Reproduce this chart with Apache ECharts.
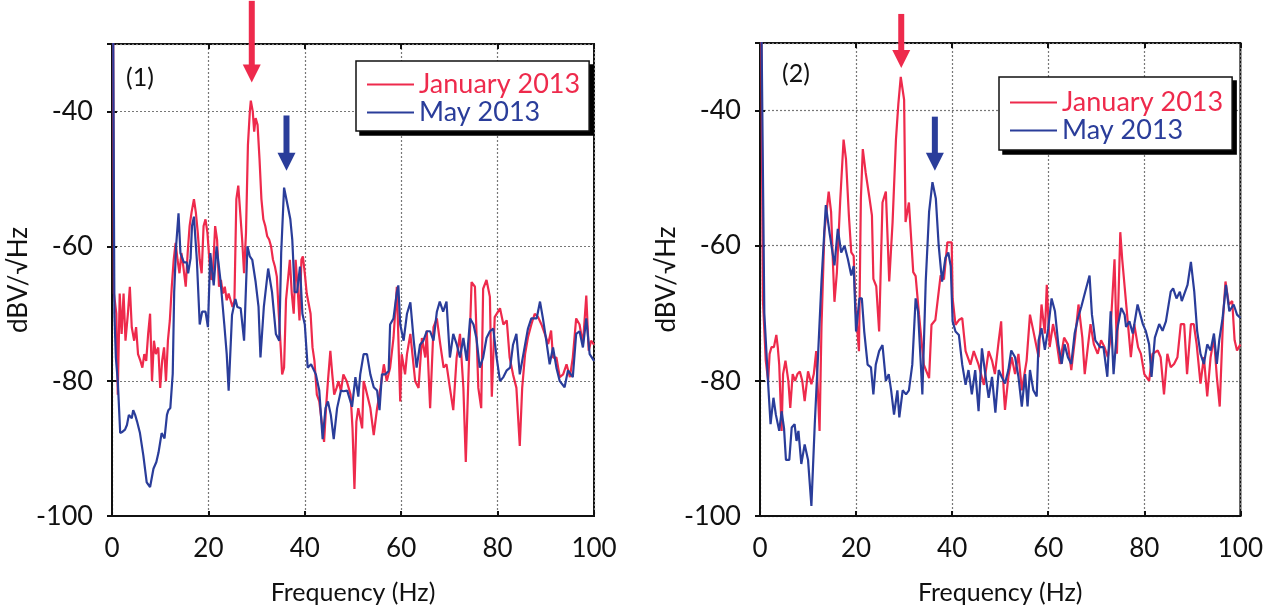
<!DOCTYPE html>
<html>
<head>
<meta charset="utf-8">
<script src="https://cdn.jsdelivr.net/npm/echarts@6/dist/echarts.min.js"></script>
<style>
  html, body { margin: 0; padding: 0; background: #fff; }
  #main { width: 1266px; height: 610px; }
</style>
</head>
<body>
<div id="main"></div>
<script>
// spectra: [frequency Hz, dBV/sqrt(Hz)]
let janA = [[0.2,-20],[0.4,-67],[0.9,-70],[1.2,-82],[1.6,-67],[2.0,-73],[2.4,-67],[2.8,-74],[3.3,-70],[3.7,-66],[4.1,-72],[4.6,-74],[5.0,-72],[5.4,-76],[5.9,-77],[6.3,-78],[6.7,-76],[7.1,-77],[7.5,-73],[7.9,-70],[8.3,-80],[8.7,-74],[9.1,-76],[9.6,-75],[10.0,-81],[10.4,-77],[10.8,-75],[11.2,-80],[11.6,-74],[12.0,-71],[12.4,-66],[12.8,-62],[13.2,-59.5],[13.6,-62],[14.0,-64],[14.4,-61],[14.8,-63],[15.3,-66],[15.7,-61],[16.1,-57],[16.5,-55],[17.0,-53],[17.4,-55],[17.8,-58],[18.2,-62],[18.6,-64],[19.0,-57],[19.4,-56],[19.8,-58],[20.2,-62],[20.6,-65],[21.0,-63],[21.4,-57],[21.8,-59],[22.2,-66],[22.6,-65],[23.0,-67],[23.4,-66],[23.8,-68],[24.2,-67],[24.6,-68],[25.0,-69],[25.4,-68],[25.8,-53],[26.2,-51],[26.6,-55],[27.0,-59],[27.4,-64],[27.8,-58],[28.2,-45],[28.6,-40],[28.8,-38.4],[29.2,-40],[29.5,-43],[29.8,-41],[30.2,-42],[30.6,-47],[31.0,-53],[31.4,-56],[31.8,-57],[32.2,-58.5],[32.6,-59],[33.0,-60],[33.4,-62],[33.8,-63],[34.2,-64.5],[34.6,-70],[35.0,-75],[35.3,-79],[35.7,-78],[36.1,-68],[36.5,-65],[36.9,-62],[37.3,-67],[37.7,-70],[38.1,-62],[38.5,-66],[38.9,-71],[39.3,-62],[39.6,-61.5],[40.0,-64],[40.4,-67],[40.8,-67],[41.2,-70],[41.6,-75],[42.0,-77],[42.5,-82],[43.0,-83],[43.5,-86],[44.0,-89],[44.4,-84],[44.8,-80],[45.3,-75.5],[45.7,-79],[46.1,-82],[46.6,-81],[47.0,-80],[47.5,-81.5],[48.0,-79],[48.3,-79],[48.7,-80],[49.0,-80],[49.5,-82],[49.9,-87],[50.3,-96],[50.7,-86],[51.1,-84],[51.5,-84],[51.9,-87],[52.2,-80],[52.6,-81],[53.0,-81],[53.6,-84],[54.3,-88],[55.0,-84],[55.7,-81],[56.4,-77.5],[57.0,-80],[57.7,-78],[58.4,-73.6],[59.1,-66],[59.8,-83],[60.1,-76],[60.8,-79],[61.2,-76],[61.9,-73],[62.9,-80],[63.6,-81],[64.3,-73.6],[65.0,-76.5],[65.3,-72.5],[66.0,-84],[66.7,-72],[67.4,-70.7],[68.1,-74.5],[68.8,-78],[69.4,-77.5],[70.1,-81],[70.8,-84.3],[71.5,-76.5],[72.2,-73],[72.9,-81],[73.4,-92],[73.9,-80.5],[74.6,-65.3],[75.3,-66],[76.0,-81],[76.6,-84],[77.0,-66.3],[77.7,-65],[78.4,-67.5],[78.8,-82.3],[79.4,-70.5],[80.5,-69.2],[81.2,-71.6],[81.9,-71],[82.5,-76.5],[83.2,-79],[83.9,-81],[84.6,-89.6],[85.1,-81],[85.7,-76],[86.3,-73.5],[87.0,-71.6],[87.7,-70],[88.4,-70.5],[89.1,-71.6],[89.8,-73],[90.5,-74.5],[91.1,-72.5],[91.5,-76.5],[92.2,-76.5],[92.9,-79.4],[93.6,-79],[94.3,-77.5],[95.0,-79.4],[95.6,-76.5],[96.3,-70.7],[97.0,-71.6],[97.7,-74.5],[98.4,-67.3],[98.9,-75.5],[99.4,-74],[100,-74.6]];

let mayA = [[0.2,-20],[0.5,-70],[0.8,-76.5],[1.2,-80],[1.7,-87.7],[2.2,-87.5],[2.7,-87.2],[3.1,-86.5],[3.5,-85],[3.8,-84.8],[4.1,-85.5],[4.4,-84.3],[4.8,-85],[5.2,-86],[5.8,-87.7],[6.5,-91],[7.2,-95],[7.9,-95.7],[8.6,-93],[9.2,-92],[9.65,-90.6],[10.3,-87.7],[10.9,-88.5],[11.4,-85],[11.7,-84.3],[12.1,-84],[12.6,-78.9],[12.9,-66.8],[13.3,-60],[13.8,-55.1],[14.2,-61],[14.9,-62.4],[15.5,-62.4],[15.8,-64],[16.3,-61.8],[16.6,-57],[17.0,-55.6],[17.6,-62],[18.2,-71.6],[18.7,-69.7],[19.4,-69.7],[19.9,-72],[20.4,-61],[21.1,-65.8],[21.7,-60],[22.5,-65],[23.3,-71.6],[23.8,-76],[24.2,-81.4],[24.9,-70.2],[25.6,-67.8],[26.0,-69],[26.7,-69.2],[27.4,-74],[28.1,-60],[28.6,-61.5],[29.1,-62],[29.8,-65.3],[30.4,-69],[30.8,-76.5],[31.5,-69],[32.4,-63.3],[33.2,-66.8],[34.0,-73],[34.7,-74],[35.1,-61],[35.7,-51.3],[36.4,-53.8],[37.0,-56],[37.4,-59],[37.9,-66.8],[38.4,-66.8],[39.0,-63],[39.5,-70],[40.0,-71.6],[40.6,-78],[41.3,-77.5],[42.3,-79],[43.0,-81.4],[43.7,-88.6],[44.3,-84],[44.8,-83],[45.4,-85],[46.0,-88.6],[46.7,-84],[47.5,-81.4],[48.0,-81.5],[48.8,-81.4],[49.8,-83.8],[50.5,-79.4],[51.1,-82.3],[51.5,-79],[52.2,-76],[52.9,-76],[53.6,-79],[54.3,-80.9],[55.0,-81.4],[55.5,-84.3],[56.0,-79],[56.7,-79],[57.4,-78.5],[57.7,-71.6],[58.4,-70.7],[59.1,-66.8],[59.4,-65.8],[59.8,-71.6],[60.5,-74],[61.2,-70],[61.9,-68.3],[62.6,-74],[63.2,-78],[63.9,-74.6],[64.6,-74],[65.3,-72.6],[66.0,-72.6],[66.7,-74],[67.4,-69.7],[68.0,-68.2],[68.7,-69.7],[69.4,-68.2],[70.1,-76.5],[70.8,-73],[71.5,-74.5],[72.2,-76.5],[72.9,-73.6],[73.6,-77],[74.3,-70.7],[75.0,-71.6],[75.6,-73.6],[76.3,-78],[77.0,-76.5],[77.7,-73.6],[78.4,-72.6],[79.1,-72.2],[79.8,-76.5],[80.5,-80],[81.2,-79.4],[81.9,-78.4],[82.6,-78],[83.2,-74.6],[83.9,-73],[84.6,-79],[85.6,-75],[86.3,-72.2],[87.0,-70.7],[88.1,-70.7],[88.8,-68.2],[89.4,-70.7],[90.1,-74],[90.8,-77.5],[91.5,-75],[92.2,-78],[92.9,-80],[93.9,-80.9],[94.6,-78.4],[95.6,-79.4],[96.3,-73],[97.0,-72.6],[97.7,-75],[98.4,-70.7],[99.1,-76],[100,-77]];

let janB = [[0.2,-20],[0.6,-68],[1.2,-77],[1.7,-80],[2.0,-76],[2.4,-75],[2.9,-75],[3.4,-73.2],[3.7,-75],[4.0,-77.6],[4.5,-87.4],[4.8,-79],[5.3,-77],[5.9,-80],[6.3,-84],[6.8,-79],[7.3,-80],[7.8,-79],[8.3,-78.6],[8.8,-80],[9.3,-83],[10.0,-78.6],[10.7,-80.5],[11.2,-79],[11.7,-75.6],[12.4,-87.4],[12.8,-72],[13.4,-58],[14.3,-52],[14.8,-55],[15.2,-62.9],[15.5,-68.3],[16.0,-64],[16.7,-53.3],[17.4,-44.3],[17.9,-47.2],[18.5,-55.5],[19.0,-61],[19.5,-61.5],[19.9,-69.3],[20.6,-75.6],[21.0,-53],[21.4,-45.7],[22.0,-49.2],[22.8,-53],[23.3,-55.5],[23.6,-64.9],[24.2,-66],[24.8,-72.7],[25.5,-53.6],[26.2,-52],[26.9,-65.3],[27.6,-56.5],[28.3,-44.3],[28.8,-39],[29.3,-35],[30.0,-38.4],[30.3,-56.5],[31.0,-53.6],[31.9,-63.9],[32.4,-64.5],[33.1,-70.2],[34.1,-77.6],[35.2,-79.6],[35.7,-71.7],[36.5,-71],[37.6,-64.4],[38.3,-65],[39.0,-59.5],[39.9,-59.5],[40.1,-67.8],[40.7,-71.7],[41.4,-71],[42.1,-70.7],[42.8,-75.6],[43.8,-77.6],[44.5,-75.6],[45.5,-77.6],[46.6,-80.6],[47.6,-75.6],[48.3,-77],[48.9,-79],[49.7,-74],[50.2,-71.2],[50.7,-81],[51.0,-84.3],[51.7,-79.4],[52.4,-76.5],[53.1,-79],[53.8,-76],[54.5,-81.4],[55.5,-77],[56.2,-70.2],[56.9,-72.6],[58.0,-76.5],[58.6,-68.7],[59.3,-73],[59.7,-65.8],[60.3,-75],[61.0,-71.6],[61.7,-74],[62.4,-77.5],[63.3,-73.6],[64.1,-74.6],[64.8,-78.4],[65.6,-73.6],[66.3,-68.7],[67.1,-73.6],[67.6,-79],[68.1,-75.9],[68.8,-71.6],[69.5,-74.6],[70.3,-76],[71.0,-74],[71.7,-75],[72.4,-76.5],[72.8,-74.6],[73.8,-62],[74.3,-76],[75.0,-58],[75.4,-62],[76.3,-69.2],[77.2,-76.5],[77.9,-71.6],[78.7,-75],[79.3,-76],[80.0,-79],[81.0,-80],[81.7,-76],[82.8,-75.5],[83.4,-76.5],[84.1,-82],[84.8,-76],[85.5,-78],[86.2,-77.5],[86.9,-76.5],[87.6,-71.6],[88.3,-71.6],[88.9,-79],[89.7,-71.6],[90.3,-71.6],[90.9,-74.6],[91.7,-80.4],[92.4,-76.5],[93.1,-82.3],[93.8,-76.5],[94.5,-73.6],[95.1,-79.4],[95.7,-83.8],[96.4,-70.7],[96.9,-65.3],[97.6,-68.7],[98.3,-68.2],[98.8,-74],[99.3,-75.5],[100,-74.6]];

let mayB = [[0.2,-20],[0.9,-70],[1.7,-80.5],[2.2,-86.4],[2.8,-82.5],[3.3,-85],[4.0,-87.4],[4.5,-84.5],[5.0,-87],[5.4,-91.7],[6.1,-91.7],[6.6,-86.9],[7.2,-86.4],[7.6,-88.9],[8.0,-87.4],[8.6,-92.3],[9.3,-89.4],[10.0,-91.7],[10.7,-98.5],[11.4,-86.4],[12.1,-76],[12.8,-65.3],[13.7,-54],[14.5,-58.2],[15.5,-62.9],[16.2,-57.5],[16.9,-61],[17.6,-60],[18.3,-62],[19.0,-64.4],[19.5,-63],[20.0,-72.7],[20.7,-67.8],[21.2,-67.8],[21.7,-72.7],[22.4,-77.6],[23.1,-78],[23.6,-82],[24.1,-77.6],[24.8,-75.6],[25.5,-74.7],[26.2,-80],[26.8,-79],[27.3,-81.4],[27.9,-85],[28.6,-81.4],[29.0,-85.4],[29.7,-81.4],[30.4,-82],[31.0,-81.4],[31.7,-77.6],[32.4,-67.8],[32.9,-69.7],[33.4,-76.5],[33.8,-82],[34.5,-65.3],[35.2,-55],[35.9,-50.6],[36.6,-53],[37.2,-60],[37.9,-65.3],[38.6,-61.8],[39.2,-61],[39.7,-63],[40.1,-71.2],[40.7,-72.7],[41.4,-73.2],[42.1,-77.6],[42.8,-80.6],[43.4,-78.4],[44.1,-82],[44.8,-78.4],[45.5,-84.5],[46.2,-75.2],[46.9,-79],[47.6,-82.5],[48.3,-79.4],[49.0,-84.7],[49.7,-78.4],[50.3,-79.4],[51.0,-80.4],[51.7,-78.4],[52.3,-75.5],[53.1,-76.5],[53.8,-79.4],[54.5,-83.8],[55.2,-79],[55.7,-83.8],[56.2,-78.4],[56.9,-81.4],[57.6,-82.3],[58.0,-74],[58.6,-72.2],[59.3,-75.4],[60.0,-72.2],[60.7,-67.8],[61.4,-69.7],[62.1,-74.6],[62.8,-77.5],[63.4,-74.6],[64.1,-76.5],[64.8,-77.5],[65.5,-73],[66.2,-70.7],[66.9,-69],[67.7,-66.8],[68.6,-64.4],[69.1,-70.2],[69.8,-74],[70.8,-75],[71.5,-75],[72.3,-79.4],[73.0,-69.7],[73.6,-79],[74.3,-72.6],[75.2,-69.2],[75.9,-70.2],[76.2,-72],[76.9,-71.2],[77.6,-73],[78.6,-68.7],[79.7,-71.6],[80.3,-72.6],[81.0,-74.6],[81.5,-79.4],[82.2,-73.6],[83.1,-71.6],[83.8,-72.6],[84.5,-71.2],[85.5,-66.8],[86.0,-66.3],[86.7,-67.8],[87.4,-66.8],[87.8,-68.2],[88.5,-66.8],[89.0,-65.8],[89.7,-62.4],[90.4,-66.8],[91.0,-72.6],[91.7,-76],[92.4,-77.5],[93.1,-74.6],[93.8,-75.5],[94.5,-73],[95.1,-77.5],[95.6,-74],[96.3,-70.7],[97.0,-65.8],[97.7,-69.7],[98.6,-68.7],[99.3,-70.2],[100,-70.7]];

// arrows marking the peaks (data coords): grid, freq, top, tip
let arrowGrid = [0, 0, 1, 1];
let arrowFreq = [29.0, 36.2, 29.4, 36.4];
let arrowTop  = [-23.6, -40.6, -25.7, -40.9];
let arrowTip  = [-35.7, -48.8, -33.7, -48.9];

let panelLabels = ['(1)', '(2)'];
let seriesNames = ['January 2013', 'May 2013'];

let red = '#ee2a4c';
let blue = '#2a3d9a';
let arrowColors = [red, blue, red, blue];
let font = 'Lato';

let grids = [
    {left: 112, top: 44, width: 482, height: 481},
    {left: 760, top: 43, width: 483, height: 478}
];

let tickStyle = {inside: true, length: 5, lineStyle: {color: '#111', width: 2}};
let splitStyle = {show: true, lineStyle: {color: '#777', type: [2, 2], width: 1.2}};

function xAxisFor(i) {
    return {
        type: 'value', gridIndex: i, min: 0, max: 100, interval: 20,
        name: 'Frequency (Hz)', nameLocation: 'middle', nameGap: 64,
        nameTextStyle: {fontFamily: font, fontSize: 25, color: '#111'},
        axisLine: {lineStyle: {color: '#111', width: 2}},
        axisTick: tickStyle,
        axisLabel: {fontFamily: font, fontSize: 26, color: '#111', margin: 20},
        splitLine: splitStyle
    };
}
function yAxisFor(i) {
    return {
        type: 'value', gridIndex: i, min: -100, max: -30, interval: 20,
        name: 'dBV/\u221AHz', nameLocation: 'middle', nameGap: 80,
        nameTextStyle: {fontFamily: font, fontSize: 26, color: '#111'},
        axisLine: {lineStyle: {color: '#111', width: 2}},
        axisTick: tickStyle,
        axisLabel: {fontFamily: font, fontSize: 27, color: '#111', margin: 19, showMaxLabel: false},
        splitLine: splitStyle
    };
}
// mirror axes: only the inward ticks on the top and right of the frame
function xMirror(i) {
    return {type: 'value', gridIndex: i, position: 'top', min: 0, max: 100, interval: 20,
        axisLine: {show: false}, axisTick: tickStyle, axisLabel: {show: false}, splitLine: {show: false}};
}
function yMirror(i) {
    return {type: 'value', gridIndex: i, position: 'right', min: -100, max: -30, interval: 20,
        axisLine: {show: false}, axisTick: tickStyle, axisLabel: {show: false}, splitLine: {show: false}};
}

function legendFor(left, top, padTop, padBottom) {
    return {
        orient: 'vertical', left: left, top: top, z: 10,
        icon: 'rect', itemWidth: 47, itemHeight: 2, itemGap: 1,
        padding: [padTop, 9, padBottom, 11],
        backgroundColor: '#fff', borderColor: '#111', borderWidth: 1.5,
        textStyle: {fontFamily: font, fontSize: 27, lineHeight: 27},
        data: [
            {name: seriesNames[0], textStyle: {color: red}},
            {name: seriesNames[1], textStyle: {color: blue}}
        ]
    };
}

function lineSeries(name, data, idx, color) {
    return {
        name: name, type: 'line', data: data,
        xAxisIndex: idx, yAxisIndex: idx,
        showSymbol: false, symbol: 'none', clip: true,
        lineStyle: {color: color, width: 2.2},
        itemStyle: {color: color},
        animation: false
    };
}

let option = {
    backgroundColor: '#fff',
    animation: false,
    title: [
        {text: panelLabels[0], left: 121, top: 60, textStyle: {fontFamily: font, fontSize: 25, fontWeight: 'normal', color: '#111'}},
        {text: panelLabels[1], left: 777, top: 56, textStyle: {fontFamily: font, fontSize: 25, fontWeight: 'normal', color: '#111'}}
    ],
    legend: [legendFor(356, 61, 10, 5), legendFor(999, 77, 12, 6)],
    grid: grids.map(g => Object.assign({show: true, borderColor: '#111', borderWidth: 2, backgroundColor: '#fff'}, g)),
    xAxis: [xAxisFor(0), xAxisFor(1), xMirror(0), xMirror(1)],
    yAxis: [yAxisFor(0), yAxisFor(1), yMirror(0), yMirror(1)],
    series: [
        lineSeries(seriesNames[0], janA, 0, red),
        lineSeries(seriesNames[1], mayA, 0, blue),
        lineSeries(seriesNames[0], janB, 1, red),
        lineSeries(seriesNames[1], mayB, 1, blue)
    ]
};

let myChart = echarts.init(document.getElementById('main'));
myChart.setOption(option);

let elements = [];

// solid drop shadow behind each legend box, sized from the laid-out legend
for (let i = 0; i < 2; i++) {
    try {
        let model = myChart.getModel().getComponent('legend', i);
        let view = myChart.getViewOfComponentModel(model);
        let g = view.group;
        let r = g.getBoundingRect();
        elements.push({
            type: 'rect', z: 9,
            shape: {x: g.x + r.x + 4, y: g.y + r.y + 4, width: r.width, height: r.height},
            style: {fill: '#000'}
        });
    } catch (e) {
        console.log(e);
    }
}

// arrows drawn after layout, from data coords
for (let i = 0; i < arrowFreq.length; i++) {
    let p1 = myChart.convertToPixel({gridIndex: arrowGrid[i]}, [arrowFreq[i], arrowTop[i]]);
    let p2 = myChart.convertToPixel({gridIndex: arrowGrid[i]}, [arrowFreq[i], arrowTip[i]]);
    let headLen = 18, headW = 9;
    elements.push({
        type: 'line', z: 100,
        shape: {x1: p1[0], y1: p1[1], x2: p2[0], y2: p2[1] - headLen + 2},
        style: {stroke: arrowColors[i], lineWidth: 6}
    });
    elements.push({
        type: 'polygon', z: 100,
        shape: {points: [[p2[0] - headW, p2[1] - headLen], [p2[0] + headW, p2[1] - headLen], [p2[0], p2[1]]]},
        style: {fill: arrowColors[i]}
    });
}
myChart.setOption({graphic: {elements: elements}});
</script>
</body>
</html>
